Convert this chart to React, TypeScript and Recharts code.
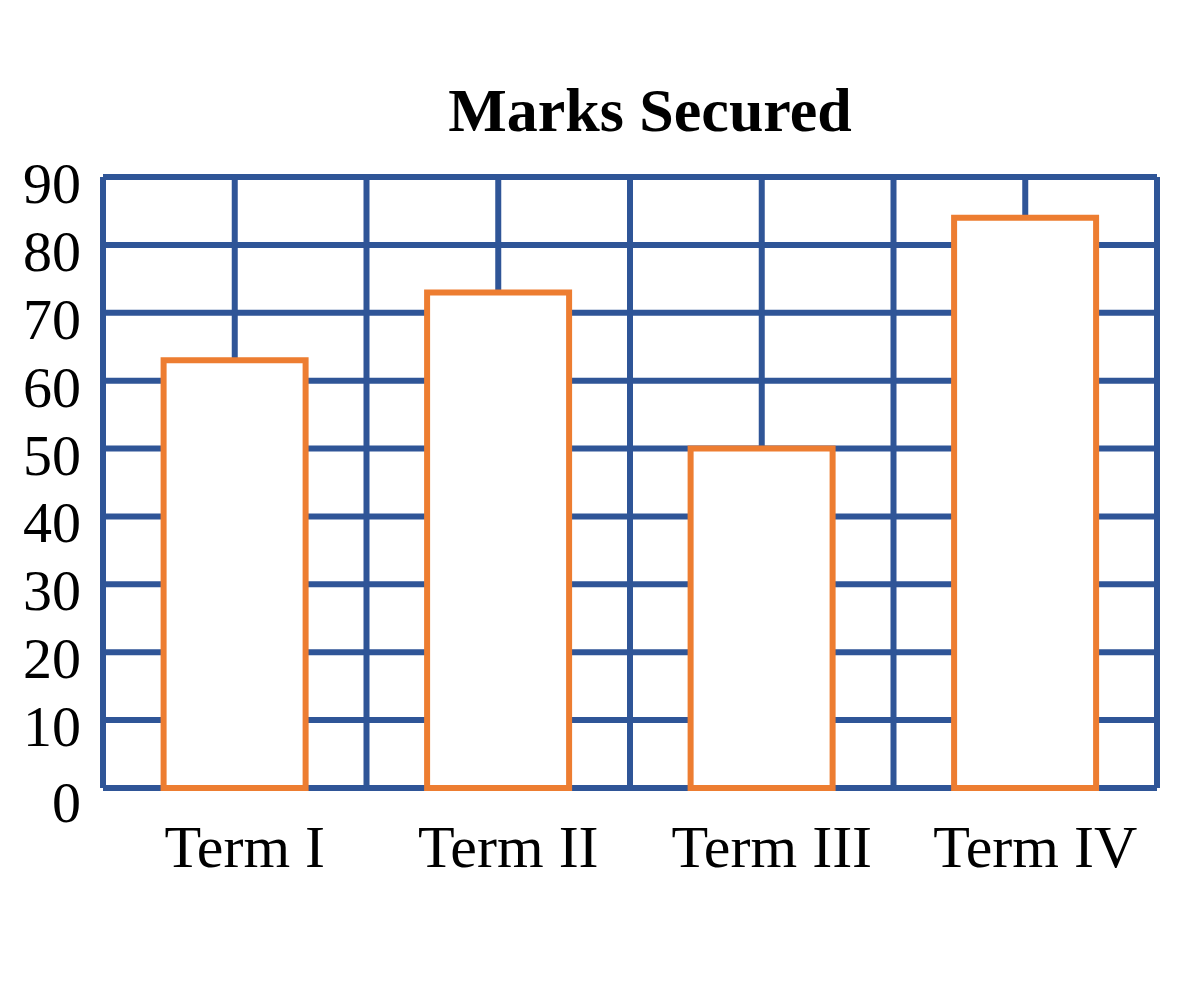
import React from 'react';
import { BarChart, Bar, XAxis, YAxis, CartesianGrid } from 'recharts';

const terms = ['Term I', 'Term II', 'Term III', 'Term IV'];
const marks = [63, 73, 50, 84];
const yTicks = [0, 10, 20, 30, 40, 50, 60, 70, 80, 90];

const data = terms.map((term, i) => ({ term, marks: marks[i] }));

const FONT = '"Liberation Serif", "DejaVu Serif", serif';

// vertical grid at every band edge and band centre
const bandGrid = ({ xAxis, offset }: any) => {
  const scale = xAxis && xAxis.scale;
  const place = (t: string) => {
    if (typeof scale === 'function') return scale(t);
    if (scale && typeof scale.map === 'function') return scale.map(t);
    return undefined;
  };
  const bw = scale && typeof scale.bandwidth === 'function' ? scale.bandwidth() : undefined;
  const first = place(terms[0]);
  if (bw && typeof first === 'number' && !Number.isNaN(first)) {
    const pts: number[] = [];
    terms.forEach((t) => {
      const s = place(t) as number;
      pts.push(s, s + bw / 2);
    });
    pts.push((place(terms[terms.length - 1]) as number) + bw);
    return pts;
  }
  const step = offset.width / (terms.length * 2);
  return Array.from({ length: terms.length * 2 + 1 }, (_, i) => offset.left + i * step);
};

const YTick = (props: any) => {
  const { x, y, payload } = props;
  return (
    <text
      x={x}
      y={y}
      dy={payload.value === 0 ? 34 : 26}
      textAnchor="end"
      fill="#000"
      style={{ fontFamily: FONT, fontSize: '58px' }}
    >
      {payload.value}
    </text>
  );
};

const XTick = (props: any) => {
  const { x, y, payload } = props;
  return (
    <text
      x={x}
      y={y}
      dx={10}
      dy={79}
      textAnchor="middle"
      fill="#000"
      style={{ fontFamily: FONT, fontSize: '60px' }}
    >
      {payload.value}
    </text>
  );
};

const App = () => (
  <div style={{ position: 'relative', width: 1184, height: 985 }}>
    <div
      style={{
        position: 'absolute',
        top: 71,
        left: 0,
        width: 1284,
        textAlign: 'center',
        fontFamily: FONT,
        fontWeight: 'bold',
        fontSize: '62px',
        lineHeight: '62px',
        color: '#000',
      }}
    >
      Marks Secured
    </div>
    <BarChart
      width={1184}
      height={985}
      data={data}
      barCategoryGap="23%"
      margin={{ top: 169, right: 35, left: 0, bottom: 115 }}
    >
      <CartesianGrid
        stroke="#2F5597"
        strokeWidth={6}
        verticalCoordinatesGenerator={bandGrid}
      />
      <XAxis
        dataKey="term"
        axisLine={false}
        tickLine={false}
        tickSize={0}
        tickMargin={0}
        height={90}
        tick={<XTick />}
        interval={0}
      />
      <YAxis
        type="number"
        domain={[0, 90]}
        ticks={yTicks}
        axisLine={false}
        tickLine={false}
        tickSize={0}
        tickMargin={22}
        width={95}
        interval={0}
        tick={<YTick />}
      />
      <Bar
        dataKey="marks"
        fill="#FFFFFF"
        stroke="#ED7D31"
        strokeWidth={6}
        isAnimationActive={false}
      />
    </BarChart>
  </div>
);

export default App;
